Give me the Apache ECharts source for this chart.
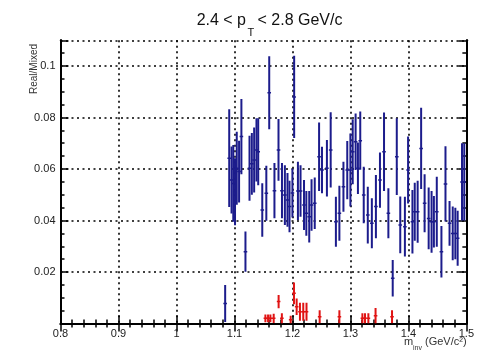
<!DOCTYPE html>
<html><head><meta charset="utf-8">
<script src="https://cdn.jsdelivr.net/npm/echarts@6/dist/echarts.min.js"></script>
<style>html,body{margin:0;padding:0;background:#fff}#c{width:477px;height:352px}</style>
</head><body><div id="c"></div>
<script>
// ---- data ----
const blueX = [1.084,1.091,1.095,1.098,1.101,1.104,1.108,1.112,1.119,1.126,1.130,1.134,1.138,1.141,1.148,1.155,1.160,1.169,1.176,1.182,
  1.187,1.1915,1.195,1.200,1.203,1.2095,1.214,1.220,1.224,1.229,1.233,1.2385,1.246,1.251,1.2595,1.266,1.275,1.281,1.288,1.2946,
  1.300,1.304,1.309,1.313,1.317,1.323,1.330,1.337,1.344,1.351,1.358,1.3655,1.373,1.380,1.386,1.394,1.3995,1.407,1.411,1.416,
  1.422,1.428,1.435,1.440,1.444,1.449,1.457,1.464,1.471,1.4765,1.481,1.485,1.4925,1.4964];
const blueY = [0.0078,0.0642,0.0557,0.0544,0.0512,0.0603,0.0590,0.0726,0.0279,0.0603,0.0620,0.0635,0.0674,0.0667,0.0441,0.0506,0.0896,0.0516,0.0674,0.0516,
  0.0499,0.0480,0.0454,0.0507,0.0880,0.0515,0.0515,0.0460,0.0428,0.0415,0.0460,0.0467,0.0648,0.0596,0.0603,0.0674,0.0395,0.0428,0.0531,0.0596,
  0.0596,0.0667,0.0706,0.0603,0.0710,0.0499,0.0421,0.0389,0.0454,0.0557,0.0667,0.0428,0.0176,0.0648,0.0383,0.0376,0.0596,0.0395,0.0434,0.0434,
  0.0680,0.0467,0.0408,0.0395,0.0395,0.0434,0.0279,0.0542,0.0389,0.0350,0.0350,0.0331,0.0550,0.0550];
const blueErr = [0.0072,0.0190,0.0130,0.0149,0.0130,0.0142,0.0120,0.0146,0.0078,0.0126,0.0120,0.0126,0.0123,0.0130,0.0104,0.0107,0.0142,0.0107,0.0120,0.0107,
  0.0116,0.0104,0.0100,0.0095,0.0160,0.0113,0.0100,0.0097,0.0087,0.0100,0.0100,0.0100,0.0133,0.0090,0.0110,0.0146,0.0097,0.0107,0.0097,0.0113,
  0.0142,0.0126,0.0110,0.0100,0.0113,0.0110,0.0110,0.0097,0.0123,0.0107,0.0152,0.0097,0.0071,0.0149,0.0110,0.0116,0.0130,0.0123,0.0113,0.0120,
  0.0158,0.0113,0.0120,0.0120,0.0100,0.0136,0.0100,0.0146,0.0087,0.0104,0.0100,0.0107,0.0150,0.0150];
const redX = [1.1534,1.158,1.162,1.1677,1.1762,1.1818,1.197,1.2027,1.2073,1.213,1.2187,1.2243,1.247,1.281,1.3207,1.3252,1.331,1.3434,1.3718];
const redY = [0.0020,0.0020,0.0020,0.0020,0.0085,0.0020,0.0015,0.0117,0.0065,0.0046,0.0046,0.0046,0.0026,0.0026,0.0020,0.0020,0.0020,0.0030,0.0026];
const redErr = [0.0015,0.0015,0.0015,0.0018,0.0026,0.0020,0.0015,0.0042,0.0032,0.0035,0.0035,0.0035,0.0025,0.0025,0.0020,0.0020,0.0020,0.0030,0.0025];
const xMin = 0.8, xMax = 1.5, xStep = 0.1;
const yMin = 0, yMax = 0.11, yStep = 0.02, yMinorStep = 0.005;

const FONT = 'Liberation Sans, Arial, Helvetica, sans-serif';
const chart = echarts.init(document.getElementById('c'), null, {renderer:'canvas'});

function errSeries(xs, ys, es, color){
  return {
    type:'custom', xAxisIndex:0, yAxisIndex:0, clip:true, z:5,
    data: xs.map((x,i)=>[x, ys[i], es[i]]),
    renderItem(params, api){
      const x=api.value(0), y=api.value(1), e=api.value(2);
      const c=api.coord([x,y]), t=api.coord([x,y+e]), b=api.coord([x,y-e]);
      return {type:'group', children:[
        {type:'line', shape:{x1:c[0],y1:t[1],x2:c[0],y2:b[1]}, style:{stroke:color,lineWidth:2}},
        {type:'line', shape:{x1:c[0]-1.8,y1:c[1],x2:c[0]+1.8,y2:c[1]}, style:{stroke:color,lineWidth:1.5}}
      ]};
    }
  };
}

const frame = {show:true, lineStyle:{color:'#000', width:2}};
const dotted = {show:true, lineStyle:{color:'#000', width:1.6, type:[2,3.5]}};
function xAx(pos, labels){
  return {type:'value', position:pos, min:xMin, max:xMax, interval:xStep,
    axisLine:frame,
    axisTick:{show:true, inside:true, length:8, lineStyle:{color:'#000', width:1.5}},
    minorTick:{show:true, splitNumber:5, length:4, lineStyle:{color:'#000', width:1.5}},
    splitLine: labels ? dotted : {show:false},
    axisLabel:{show:labels, color:'#222', fontSize:11, fontFamily:FONT, margin:5, showMaxLabel:true, showMinLabel:true,
      formatter:v=>String(+v.toFixed(2))}
  };
}
function yAx(pos, step, len, labels, grid){
  return {type:'value', position:pos, min:yMin, max:yMax, interval:step,
    axisLine: frame,
    axisTick:{show:true, inside:true, length:len, lineStyle:{color:'#000', width:1.5}},
    splitLine: grid ? dotted : {show:false},
    axisLabel:{show:labels, color:'#222', fontSize:11, fontFamily:FONT, margin:5,
      formatter:v=>{const k=v/yStep; return (v>0 && v<0.105 && Math.abs(k-Math.round(k))<1e-6) ? String(+v.toFixed(2)) : '';}}
  };
}

function txt(x, y, s, size, align, va, color, extra){
  return Object.assign({type:'text', x:x, y:y, style:{text:s, font:size+'px '+FONT, fill:color, align:align, verticalAlign:va,
    textAlign:align, textVerticalAlign:va}}, extra||{});
}

chart.setOption({
  animation:false,
  backgroundColor:'#fff',
  grid:{left:60.5, right:4.9, top:40.25, bottom:28.5, containLabel:false},
  xAxis:[xAx('bottom', true), xAx('top', false)],
  yAxis:[yAx('left', yStep, 8, true, true), yAx('left', yMinorStep, 4, false, false),
         yAx('right', yStep, 8, false, false), yAx('right', yMinorStep, 4, false, false)],
  series:[errSeries(blueX, blueY, blueErr, '#1c1c8c'), errSeries(redX, redY, redErr, '#e01414')],
  graphic:[
    txt(246, 21, '2.4 < p', 16, 'right', 'middle', '#111'),
    txt(247.5, 33, 'T', 11, 'left', 'middle', '#111'),
    txt(257.5, 21, '< 2.8 GeV/c', 16, 'left', 'middle', '#111'),
    txt(34, 44, 'Real/Mixed', 10, 'right', 'middle', '#333', {rotation:Math.PI/2}),
    txt(404, 342, 'm', 11, 'left', 'middle', '#333'),
    txt(413, 348, 'inv', 7, 'left', 'middle', '#333'),
    txt(425, 342, '(GeV/c²)', 11, 'left', 'middle', '#333')
  ]
});
</script></body></html>
